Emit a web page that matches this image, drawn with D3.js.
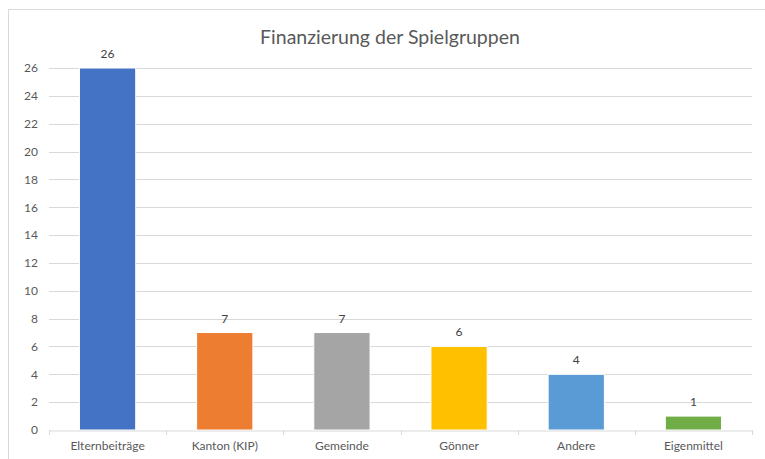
<!DOCTYPE html>
<html><head><meta charset="utf-8">
<script src="https://cdn.jsdelivr.net/npm/d3@7"></script>
<style>body{margin:0;background:#fff}svg{display:block}text{font-family:Lato,"Open Sans",sans-serif}</style>
</head><body><svg id="c" width="765" height="459"></svg>
<script>
const categories = ["Elternbeiträge","Kanton (KIP)","Gemeinde","Gönner","Andere","Eigenmittel"];
const values = [26,7,7,6,4,1];
const colors = ["#4472C4","#ED7D31","#A5A5A5","#FFC000","#5B9BD5","#70AD47"];
const yTicks = [0,2,4,6,8,10,12,14,16,18,20,22,24,26];
const title = "Finanzierung der Spielgruppen";

const svg = d3.select("#c");
svg.append("rect").attr("x",8.5).attr("y",9.5).attr("width",800).attr("height",500)
  .attr("fill","#fff").attr("stroke","#D9D9D9");
const m = {l:49, r:752, t:68, b:430};
const x = d3.scaleBand().domain(categories).range([m.l,m.r]).paddingInner(0.52).paddingOuter(0.26);
const y = d3.scaleLinear().domain([0,26]).range([m.b,m.t]);

svg.append("g").selectAll("line").data(yTicks.filter(d=>d>0)).join("line")
  .attr("x1",m.l).attr("x2",m.r).attr("y1",d=>Math.round(y(d))+0.5).attr("y2",d=>Math.round(y(d))+0.5)
  .attr("stroke","#D9D9D9");

const ya = svg.append("g").attr("transform",`translate(${m.l},0)`)
  .call(d3.axisLeft(y).tickValues(yTicks).tickSize(0).tickPadding(11));
ya.select(".domain").remove();
ya.selectAll("text").attr("fill","#595959").style("font-size","12px");

svg.append("g").selectAll("rect").data(values).join("rect")
  .attr("x",(d,i)=>x(categories[i])).attr("width",x.bandwidth())
  .attr("y",d=>y(d)).attr("height",d=>y(0)-y(d)).attr("fill",(d,i)=>colors[i])
  .attr("stroke","#fff").attr("stroke-width",1);

svg.append("g").selectAll("text").data(values).join("text")
  .attr("x",(d,i)=>x(categories[i])+x.bandwidth()/2).attr("y",d=>y(d)-10)
  .attr("text-anchor","middle").attr("fill","#404040").style("font-size","12px").text(d=>d);

const xa = svg.append("g").attr("transform",`translate(0,${m.b+0.5})`)
  .call(d3.axisBottom(x).tickSize(0).tickPadding(11));
xa.select(".domain").attr("stroke","#D9D9D9");
xa.selectAll("text").attr("fill","#595959").style("font-size","12px");
const edges = categories.map(c=>x(c)-x.step()*x.paddingInner()/2).concat([m.r]);
svg.append("g").selectAll("line").data(edges).join("line")
  .attr("x1",d=>Math.round(d)+0.5).attr("x2",d=>Math.round(d)+0.5).attr("y1",m.b).attr("y2",m.b+5)
  .attr("stroke","#D9D9D9");

svg.append("text").attr("x",390).attr("y",44).attr("text-anchor","middle")
  .attr("fill","#595959").style("font-size","19.5px").text(title);
</script></body></html>
